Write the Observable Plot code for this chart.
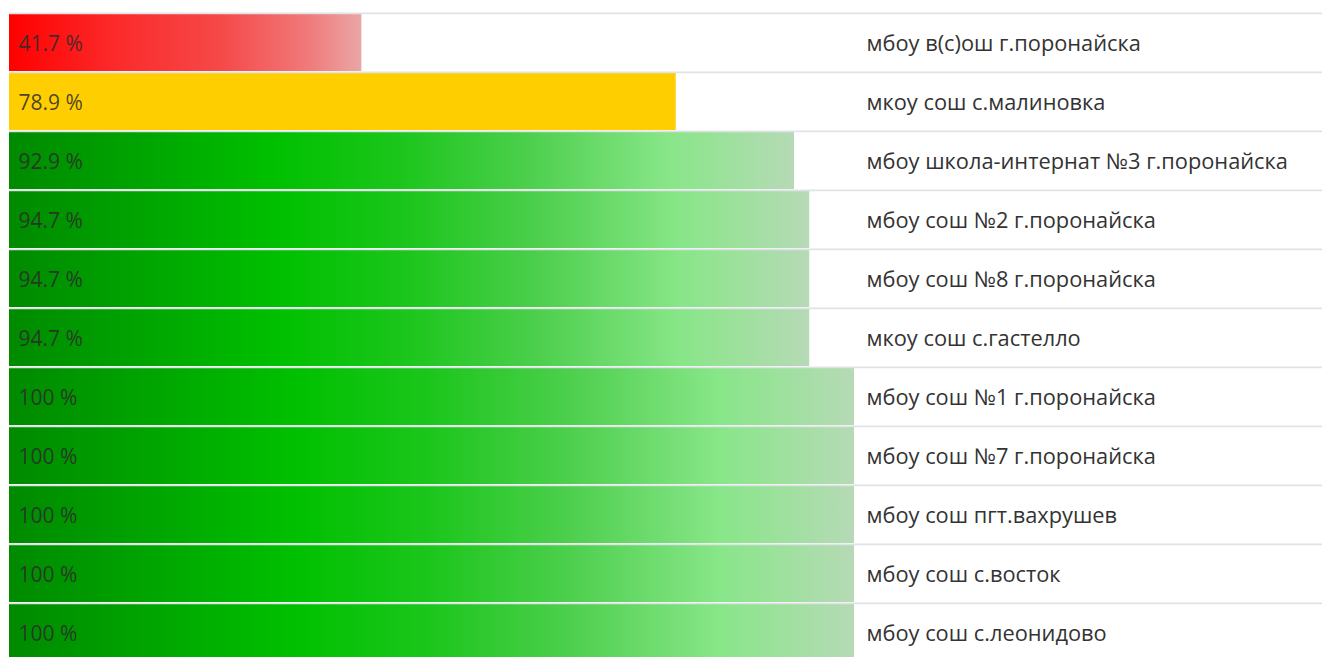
<!DOCTYPE html>
<html>
<head>
<meta charset="utf-8">
<script src="https://cdn.jsdelivr.net/npm/d3@7"></script>
<script src="https://cdn.jsdelivr.net/npm/@observablehq/plot@0.6"></script>
<style>
  html, body { margin: 0; padding: 0; background: #fff; overflow: hidden; }
  #chart svg { display: block; }
</style>
</head>
<body>
<div id="chart"></div>
<script>
const schools = [
  "мбоу в(с)ош г.поронайска",
  "мкоу сош с.малиновка",
  "мбоу школа-интернат №3 г.поронайска",
  "мбоу сош №2 г.поронайска",
  "мбоу сош №8 г.поронайска",
  "мкоу сош с.гастелло",
  "мбоу сош №1 г.поронайска",
  "мбоу сош №7 г.поронайска",
  "мбоу сош пгт.вахрушев",
  "мбоу сош с.восток",
  "мбоу сош с.леонидово"
];
const values = [41.7, 78.9, 92.9, 94.7, 94.7, 94.7, 100, 100, 100, 100, 100];
const levels = ["red", "yellow", "green", "green", "green", "green", "green", "green", "green", "green", "green"];
const valueLabels = ["41.7 %", "78.9 %", "92.9 %", "94.7 %", "94.7 %", "94.7 %", "100 %", "100 %", "100 %", "100 %", "100 %"];

const data = schools.map((s, i) => ({school: s, value: values[i], level: levels[i], label: valueLabels[i]}));

const rowCount = schools.length;
const rowH = 59.3;
const yStart = 11;

const plot = Plot.plot({
  width: 1322,
  height: 657,
  marginLeft: 9,
  marginRight: 0,
  marginTop: 0,
  marginBottom: 0,
  style: {fontFamily: "'Open Sans', sans-serif", background: "#fff"},
  x: {domain: [0, 100], range: [9, 854], axis: null},
  y: {domain: schools, range: [yStart, yStart + rowH * rowCount], padding: 0, axis: null},
  marks: [
    Plot.barX(data.filter(d => d.level === "red"), {x: "value", y: "school", fill: "url(#gRed)", insetTop: 1, insetBottom: 1}),
    Plot.barX(data.filter(d => d.level === "yellow"), {x: "value", y: "school", fill: "#ffce00", insetTop: 1, insetBottom: 1}),
    Plot.barX(data.filter(d => d.level === "green"), {x: "value", y: "school", fill: "url(#gGreen)", insetTop: 1, insetBottom: 1}),
    Plot.ruleY(schools, {y: d => d, dy: -rowH / 2, stroke: "#dfe2e6", strokeWidth: 1.6}),
    Plot.text(data, {x: () => 0, y: "school", text: "label", dx: 9, textAnchor: "start", fill: "#2b2b2b", fillOpacity: 0.85, fontSize: 21, dy: 1}),
    Plot.text(data, {x: () => 100, y: "school", text: "school", dx: 12, textAnchor: "start", fill: "#333", fontSize: 21.8, dy: 1})
  ]
});

const defs = d3.select(plot).insert("defs", ":first-child");
const red = defs.append("linearGradient").attr("id", "gRed").attr("x1", 0).attr("x2", 1).attr("y1", 0).attr("y2", 0);
[[0, "#ff0000"], [0.3, "#fb2a2a"], [0.6, "#f64848"], [0.85, "#f07a7a"], [1, "#eaa6a6"]].forEach(([o, c]) =>
  red.append("stop").attr("offset", o).attr("stop-color", c));
const green = defs.append("linearGradient").attr("id", "gGreen").attr("x1", 0).attr("x2", 1).attr("y1", 0).attr("y2", 0);
[[0, "#008a00"], [0.34, "#00c000"], [0.5, "#1cc61c"], [0.66, "#4ccf4c"], [0.84, "#88e688"], [1, "#b6dab6"]].forEach(([o, c]) =>
  green.append("stop").attr("offset", o).attr("stop-color", c));

document.getElementById("chart").appendChild(plot);
</script>
</body>
</html>
